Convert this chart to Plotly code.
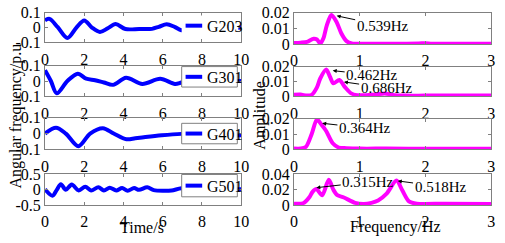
import plotly.graph_objects as go

W, H = 505, 243
FONT = "Liberation Serif, Times New Roman, serif"

# ---------------- data: time-domain responses ----------------
t203 = [0, 0.23, 0.65, 1.14, 1.6, 2.0, 2.39, 2.8, 3.2, 3.6, 4.1, 4.8, 5.45, 5.8, 6.2, 6.6, 6.95, 7.5, 8.2, 8.9, 9.5, 10]
w203 = [0.048, 0.058, 0.002, -0.07, 0.0, 0.048, 0.0, -0.03, -0.005, 0.023, -0.01, -0.01, -0.009, 0.005, 0.022, 0.005, -0.018, -0.01, 0.01, 0.005, -0.005, 0.0]

t301 = [0, 0.3, 0.6, 1.14, 1.67, 2.1, 2.55, 3.0, 3.47, 4.13, 4.96, 5.87, 6.62, 6.95, 7.5, 8.3, 9.0, 9.6, 10]
w301 = [0.07, 0.0, -0.08, 0.0, 0.048, 0.015, 0.005, -0.01, -0.025, 0.021, -0.019, 0.015, -0.019, -0.01, 0.01, 0.005, -0.005, 0.0, 0.0]

t401 = [0, 0.56, 1.06, 1.7, 2.3, 2.95, 3.5, 4.15, 4.6, 5.12, 5.95, 6.95, 7.8, 8.6, 9.3, 10]
w401 = [0.0, 0.037, 0.0, -0.08, 0.0, 0.034, 0.0, -0.036, -0.03, -0.022, -0.011, -0.002, 0.0, -0.005, -0.01, -0.01]

t501 = [0, 0.38, 0.6, 0.81, 1.06, 1.36, 1.72, 2.05, 2.35, 2.72, 3.0, 3.3, 3.63, 3.93, 4.21, 4.54, 4.79, 5.21, 5.54, 6.04, 6.45, 6.95, 7.5, 8.2, 8.9, 9.5, 10]
w501 = [0.02, -0.19, 0.0, 0.18, 0.0, 0.17, -0.02, 0.1, -0.02, 0.08, -0.02, 0.07, -0.02, 0.06, -0.03, 0.06, 0.0, 0.08, -0.01, -0.03, -0.02, 0.05, 0.03, 0.02, 0.03, 0.02, 0.02]

gen_names = ["G203", "G301", "G401", "G501"]

# ---------------- data: spectra ----------------
f1 = [0, 0.1, 0.2, 0.3, 0.35, 0.4, 0.45, 0.5, 0.57, 0.65, 0.72, 0.8, 0.88, 1.2, 1.6, 1.9, 2.0, 2.1, 2.5, 3.0]
a1 = [0.0008, 0.001, 0.0015, 0.0035, 0.003, 0.0005, 0.004, 0.012, 0.0185, 0.014, 0.007, 0.002, 0.0005, 0.0004, 0.0004, 0.0005, 0.0007, 0.0004, 0.0003, 0.0003]

f2 = [0, 0.1, 0.2, 0.27, 0.35, 0.4, 0.49, 0.55, 0.6, 0.69, 0.78, 0.87, 0.96, 1.1, 1.25, 1.38, 1.5, 1.7, 2.0, 3.0]
a2 = [0.001, 0.0012, 0.0005, 0.001, 0.006, 0.012, 0.018, 0.013, 0.0088, 0.011, 0.006, 0.002, 0.0008, 0.0008, 0.0012, 0.002, 0.001, 0.0005, 0.0005, 0.0005]

f3 = [0, 0.1, 0.18, 0.27, 0.35, 0.42, 0.49, 0.59, 0.68, 0.8, 1.0, 1.4, 2.0, 3.0]
a3 = [0.0005, 0.0005, 0.0015, 0.01, 0.0195, 0.016, 0.012, 0.004, 0.0012, 0.0008, 0.0005, 0.0005, 0.0004, 0.0004]

f4 = [0, 0.14, 0.24, 0.28, 0.34, 0.43, 0.53, 0.6, 0.66, 0.76, 0.93, 1.06, 1.18, 1.28, 1.41, 1.56, 1.65, 1.75, 1.87, 2.3, 3.0]
a4 = [0.002, 0.0025, 0.011, 0.017, 0.021, 0.013, 0.033, 0.02, 0.013, 0.01, 0.003, 0.0015, 0.003, 0.006, 0.015, 0.032, 0.019, 0.005, 0.002, 0.002, 0.0015]

# annotated modes: panel, label, arrow head (freq, amp), label centre (freq, amp)
mode_panel = [1, 2, 2, 3, 4, 4]
mode_label = ["0.539Hz", "0.462Hz", "0.686Hz", "0.364Hz", "0.315Hz", "0.518Hz"]
mode_f = [0.65, 0.59, 0.76, 0.43, 0.34, 1.58]
mode_a = [0.018, 0.0173, 0.0097, 0.017, 0.0228, 0.0316]
label_f = [1.35, 1.19, 1.41, 1.08, 1.13, 2.23]
label_a = [0.0118, 0.0144, 0.0056, 0.0139, 0.0303, 0.0242]

# tick labels
left_ticks = [[-0.1, 0, 0.1]] * 3 + [[-0.5, 0, 0.5]]
left_ticktext = [["-0.1", "0", "0.1"]] * 3 + [["-0.5", "0", "0.5"]]
left_ranges = [[-0.1, 0.1]] * 3 + [[-0.5, 0.5]]
right_ticks = [[0, 0.01, 0.02]] * 3 + [[0, 0.02, 0.04]]
right_ticktext = [["0", "0.01", "0.02"]] * 3 + [["0", "0.02", "0.04"]]
right_ranges = [[0, 0.02]] * 3 + [[0, 0.04]]
time_ticks = [0, 2, 4, 6, 8, 10]
freq_ticks = [0, 1, 2, 3]

# ---------------- layout geometry (pixels) ----------------
left_x = (42, 243)
right_x = (297, 499)
left_rows = [(5, 37), (62, 95), (118, 152), (179, 212)]
right_rows = [(5, 39), (63, 95), (119, 152), (179, 212)]


def px(xp):
    return xp / W


def py(yp):
    return 1 - yp / H


fig = go.Figure()

times = [t203, t301, t401, t501]
omegas = [w203, w301, w401, w501]
freqs = [f1, f2, f3, f4]
amps = [a1, a2, a3, a4]

for i in range(4):
    k = i + 1
    fig.add_trace(go.Scatter(x=times[i], y=omegas[i], mode="lines",
                             line=dict(color="#0000FF", width=4, shape="spline", smoothing=0.9),
                             xaxis=f"x{k}", yaxis=f"y{k}", showlegend=False, hoverinfo="skip"))
for i in range(4):
    k = i + 5
    fig.add_trace(go.Scatter(x=freqs[i], y=amps[i], mode="lines",
                             line=dict(color="#FF00FF", width=4, shape="spline", smoothing=0.8),
                             xaxis=f"x{k}", yaxis=f"y{k}", showlegend=False, hoverinfo="skip"))

axis_common = dict(showgrid=False, zeroline=False, showline=True, linecolor="#808080",
                   linewidth=1, mirror="ticks", ticks="inside", ticklen=3, tickcolor="#808080",
                   tickfont=dict(family=FONT, size=16, color="black"))

layout = dict(width=W, height=H, autosize=False,
              margin=dict(l=0, r=0, t=0, b=0),
              paper_bgcolor="white", plot_bgcolor="white", showlegend=False,
              font=dict(family=FONT, size=15, color="black"))

for i in range(4):
    k = i + 1
    top, bot = left_rows[i]
    layout[f"xaxis{k}"] = dict(axis_common, domain=[px(left_x[0]), px(left_x[1])], anchor=f"y{k}",
                               range=[0, 10], tickvals=time_ticks, ticklabelstandoff=2)
    layout[f"yaxis{k}"] = dict(axis_common, domain=[py(bot), py(top)], anchor=f"x{k}",
                               range=left_ranges[i], tickvals=left_ticks[i], ticktext=left_ticktext[i])
    k = i + 5
    top, bot = right_rows[i]
    layout[f"xaxis{k}"] = dict(axis_common, domain=[px(right_x[0]), px(right_x[1])], anchor=f"y{k}",
                               range=[0, 3], tickvals=freq_ticks, ticklabelstandoff=2)
    layout[f"yaxis{k}"] = dict(axis_common, domain=[py(bot), py(top)], anchor=f"x{k}",
                               range=right_ranges[i], tickvals=right_ticks[i], ticktext=right_ticktext[i])

fig.update_layout(**layout)

# ---------------- legends (drawn as boxes) ----------------
legend_boxes = [(182, 8, 240, 30), (182, 63, 239, 85), (182, 124, 239, 146), (182, 179, 239, 203)]
legend_border = ["rgba(0,0,0,0)", "#808080", "#808080", "#808080"]
shapes = []
annotations = []
for i in range(4):
    x0, y0, x1, y1 = legend_boxes[i]
    shapes.append(dict(type="rect", xref="paper", yref="paper", layer="above",
                       x0=px(x0), x1=px(x1), y0=py(y1), y1=py(y0),
                       fillcolor="white", line=dict(color=legend_border[i], width=1)))
    ym = (y0 + y1) / 2
    shapes.append(dict(type="line", xref="paper", yref="paper", layer="above",
                       x0=px(x0 + 4), x1=px(x0 + 21), y0=py(ym), y1=py(ym),
                       line=dict(color="#0000FF", width=4)))
    annotations.append(dict(xref="paper", yref="paper", x=px(x0 + 24), y=py(ym + 1),
                            xanchor="left", yanchor="middle", showarrow=False,
                            text=gen_names[i], font=dict(family=FONT, size=16, color="black")))

# ---------------- mode annotations ----------------
for j in range(len(mode_label)):
    k = mode_panel[j] + 4
    annotations.append(dict(xref=f"x{k}", yref=f"y{k}", x=mode_f[j], y=mode_a[j],
                            axref=f"x{k}", ayref=f"y{k}", ax=label_f[j], ay=label_a[j],
                            text=mode_label[j],
                            showarrow=True, arrowhead=2, arrowsize=0.8, arrowwidth=1,
                            arrowcolor="black", font=dict(family=FONT, size=15, color="black")))

# ---------------- axis titles ----------------
annotations += [
    dict(xref="paper", yref="paper", x=px(12), y=py(116), text="Angular frequency/p.u",
         textangle=-90, showarrow=False, font=dict(family=FONT, size=16, color="black"),
         xanchor="center", yanchor="middle"),
    dict(xref="paper", yref="paper", x=px(262), y=py(116), text="Amplitude",
         textangle=-90, showarrow=False, font=dict(family=FONT, size=16, color="black"),
         xanchor="center", yanchor="middle"),
    dict(xref="paper", yref="paper", x=px(141), y=py(236), text="Time/s",
         showarrow=False, font=dict(family=FONT, size=16, color="black"),
         xanchor="center", yanchor="middle"),
    dict(xref="paper", yref="paper", x=px(401), y=py(236), text="Frequency/Hz",
         showarrow=False, font=dict(family=FONT, size=16, color="black"),
         xanchor="center", yanchor="middle"),
]

fig.update_layout(shapes=shapes, annotations=annotations)

post = ("document.documentElement.style.margin='0';document.body.style.margin='0';"
        "document.documentElement.style.overflow='hidden';document.body.style.overflow='hidden';"
        "var gd=document.getElementById('{plot_id}');"
        "gd.style.width='%dpx';gd.style.height='%dpx';"
        "Plotly.relayout(gd,{width:%d,height:%d,autosize:false});" % (W, H, W, H))
fig.write_html("out.html", config={"displayModeBar": False, "responsive": False},
               default_width="%dpx" % W, default_height="%dpx" % H, post_script=post)
